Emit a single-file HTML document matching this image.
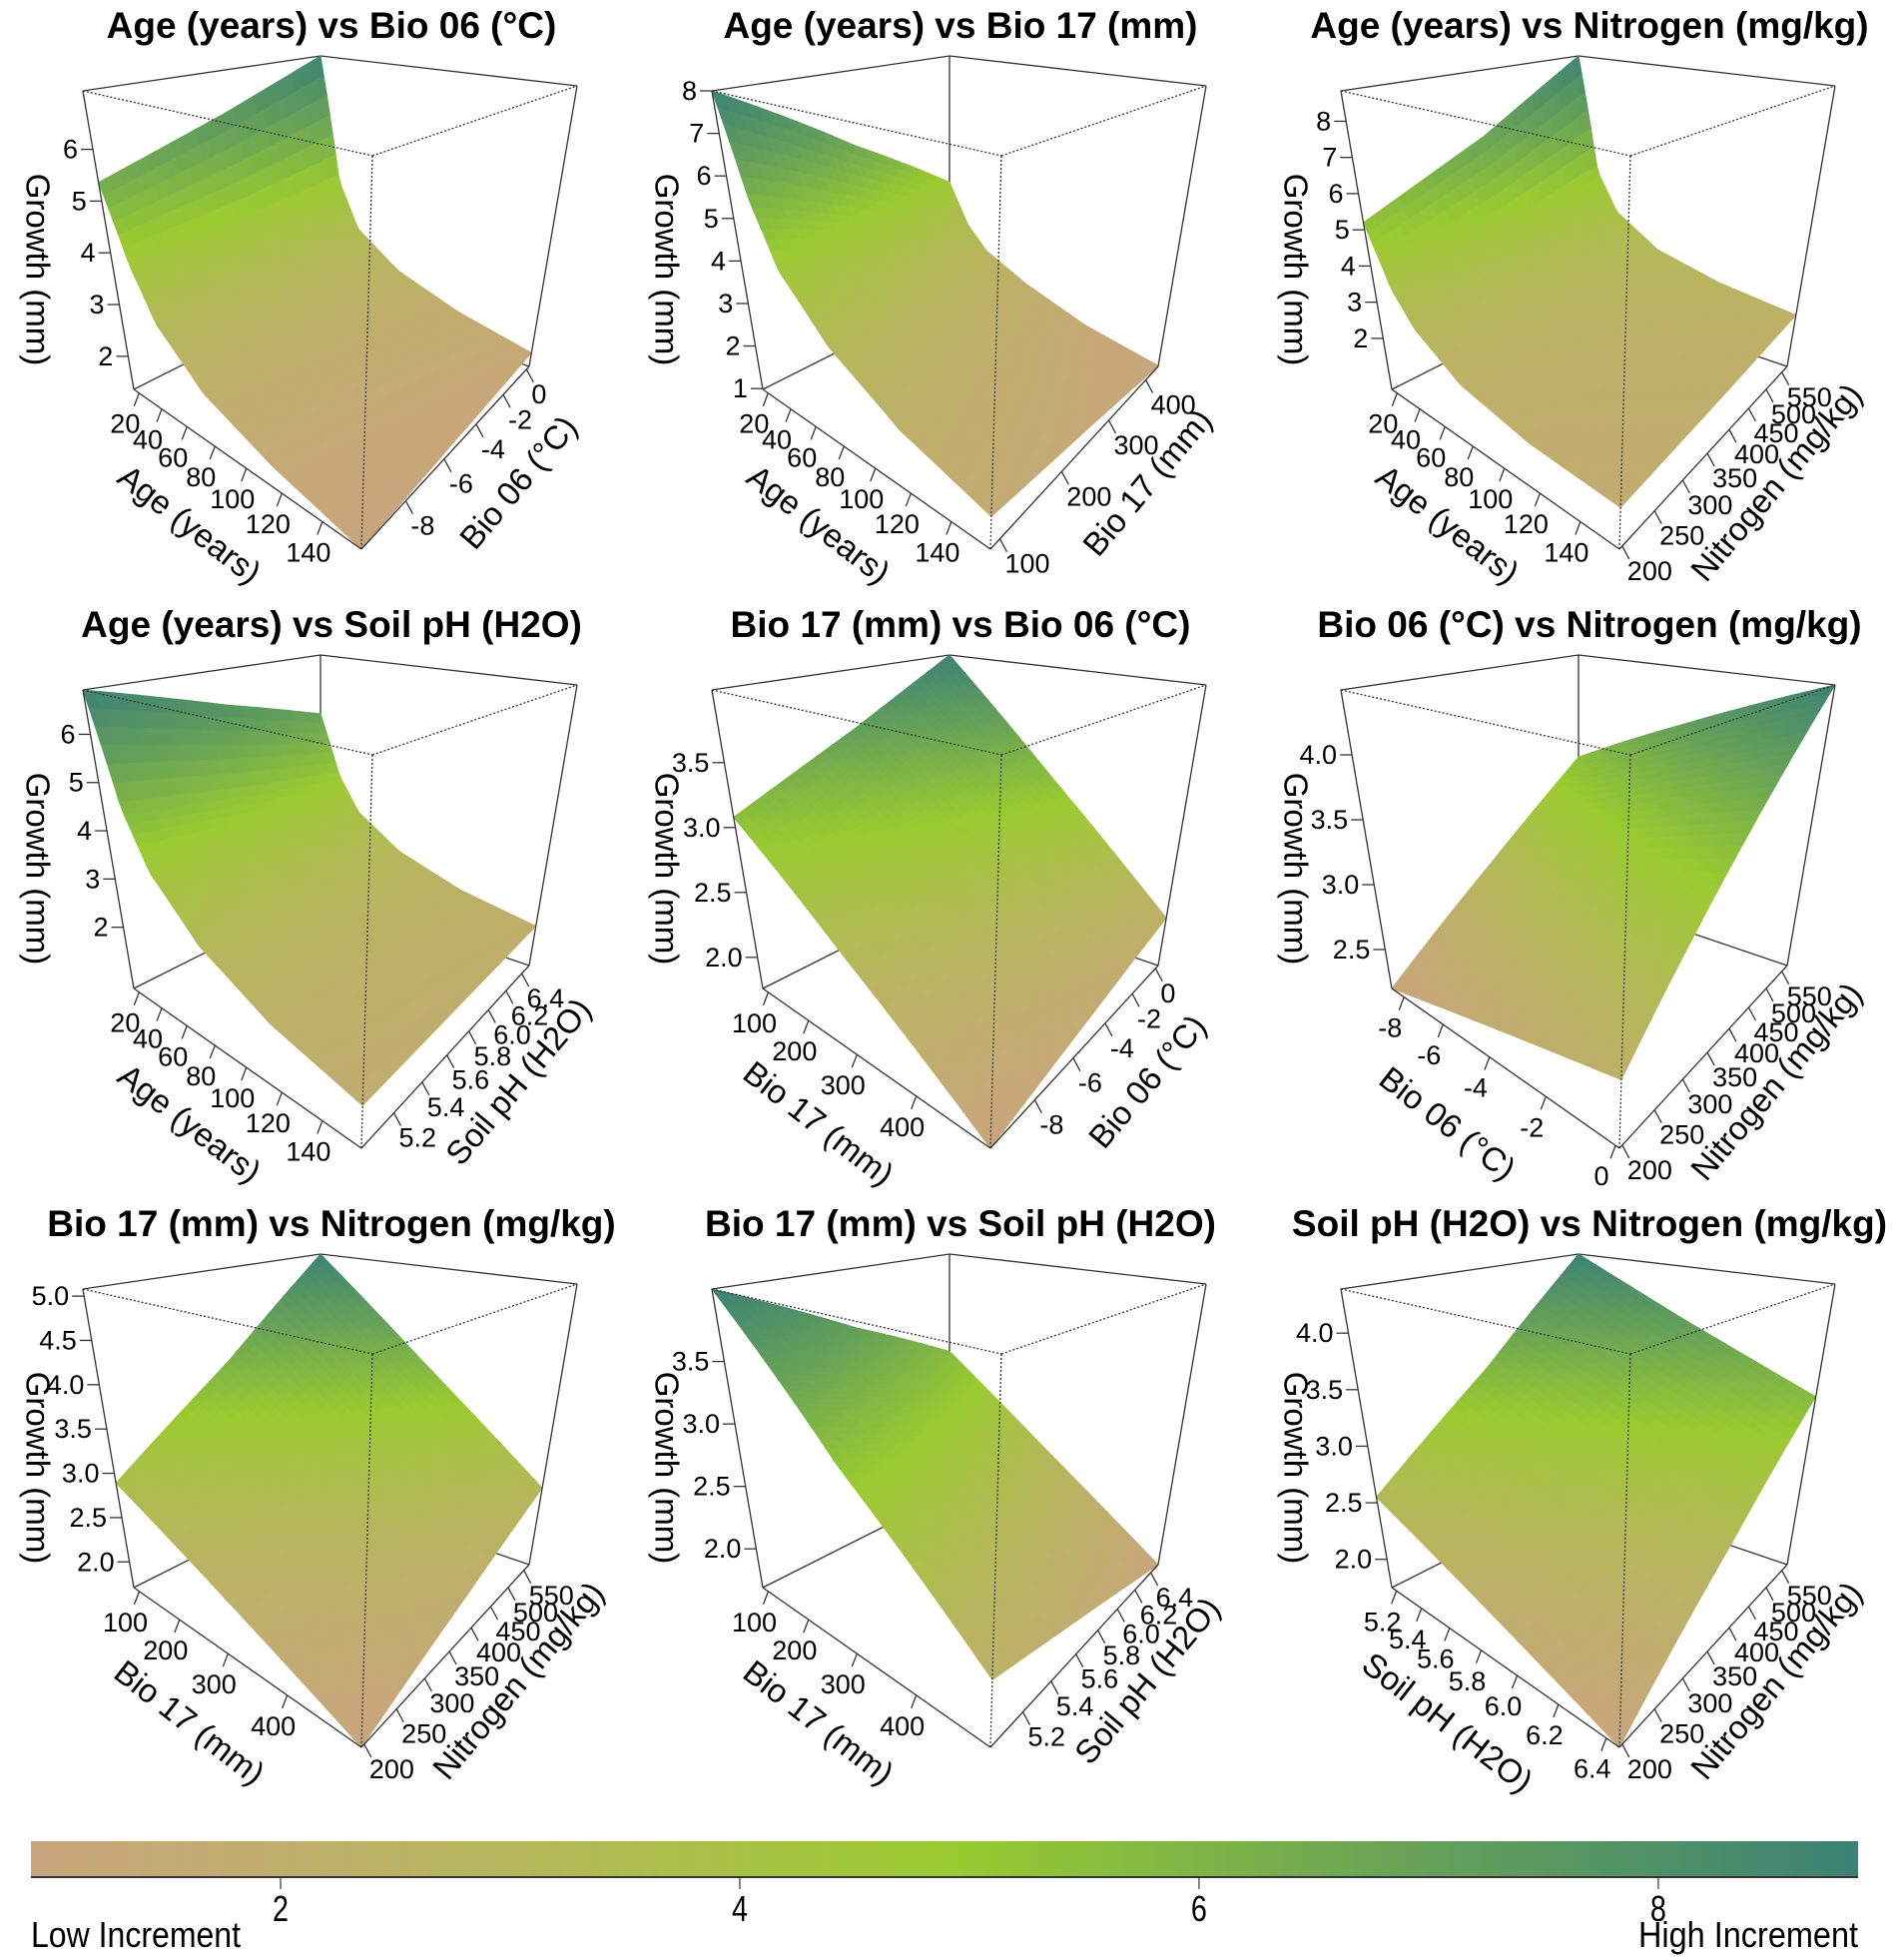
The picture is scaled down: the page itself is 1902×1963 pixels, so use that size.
<!DOCTYPE html>
<html><head><meta charset="utf-8"><title>Growth response surfaces</title>
<style>
html,body{margin:0;padding:0;background:#fff;}
svg{display:block;font-family:"Liberation Sans",sans-serif;}
</style></head>
<body>
<svg id="chart" xmlns="http://www.w3.org/2000/svg" width="1902" height="1963" viewBox="0 0 1902 1963">
<rect x="0" y="0" width="1902" height="1963" fill="#fff"/>
</svg>
<script>
// ---- data: category positions along axes ----
const ageCats = [15, 30, 45, 75, 115, 157];
const bio06Cats = [-9.9, -4.8, 0.25];
const bio06CatsA = [-8.7, -4.3, 0.1];
const bio17Cats = [87, 263, 439];
const bio17CatsA = [85, 290, 500];
const nitroCats = [196, 382, 568];
const phCats = [5.0, 5.75, 6.5];
const phCatsA = [5.16, 5.8, 6.45];
// growth values: rows = low / mid / high level of the second variable
const p1Low = [5.36, 3.9, 3.0, 2.2, 1.7, 1.36];
const p1Mid = [6.2, 4.0, 3.1, 2.35, 1.85, 1.5];
const p1High = [7.13, 4.2, 3.2, 2.5, 2.0, 1.64];
const p2Low = [8.0, 5.6, 4.2, 3.0, 2.1, 1.56];
const p2Mid = [6.0, 4.3, 3.4, 2.5, 1.75, 1.3];
const p2High = [4.3, 3.2, 2.6, 2.0, 1.4, 1.0];
const p3Low = [5.2, 3.6, 2.8, 2.0, 1.6, 1.46];
const p3Mid = [6.8, 4.2, 3.2, 2.4, 1.95, 1.75];
const p3High = [8.84, 5.0, 3.8, 2.9, 2.4, 2.1];
const p4Low = [6.92, 4.6, 3.5, 2.5, 1.8, 1.4];
const p4Mid = [6.1, 4.2, 3.3, 2.45, 1.85, 1.5];
const p4High = [5.4, 3.9, 3.1, 2.4, 1.9, 1.6];
const p5Low = [3.08, 2.4, 1.76];
const p5Mid = [3.55, 2.75, 1.95];
const p5High = [4.06, 3.1, 2.15];
const p6Low = [2.2, 2.4, 2.6];
const p6Mid = [2.85, 3.2, 3.55];
const p6High = [3.52, 4.0, 4.5];
const p7Low = [2.89, 2.3, 1.71];
const p7Mid = [3.9, 3.0, 2.15];
const p7High = [5.08, 3.85, 2.63];
const p8Low = [4.08, 3.0, 2.1];
const p8Mid = [3.55, 2.7, 1.9];
const p8High = [3.11, 2.4, 1.69];
const p9Low = [2.55, 2.15, 1.75];
const p9Mid = [3.4, 2.95, 2.5];
const p9High = [4.39, 3.85, 3.33];
// tick labels
const ageTicks = [20, 40, 60, 80, 100, 120, 140];
const bio06Ticks = [-8, -6, -4, -2, 0];
const bio17Ticks = [100, 200, 300, 400];
const nitroTicks = [200, 250, 300, 350, 400, 450, 500, 550];
const phTicks = [5.2, 5.4, 5.6, 5.8, 6.0, 6.2, 6.4];
const zTicks1 = [2, 3, 4, 5, 6];
const zTicks2 = [1, 2, 3, 4, 5, 6, 7, 8];
const zTicks3 = [2, 3, 4, 5, 6, 7, 8];
const zTicksA = [2.0, 2.5, 3.0, 3.5];
const zTicksB = [2.5, 3.0, 3.5, 4.0];
const zTicksC = [2.0, 2.5, 3.0, 3.5, 4.0, 4.5, 5.0];
const zTicksD = [2.0, 2.5, 3.0, 3.5, 4.0];
// colour scale (fractions of the range)
const scaleFrac = [0, 0.26, 0.5, 0.75, 1];
const scaleCols = ["#c9a57d", "#b6b65c", "#9acb30", "#68a357", "#3c8274"];
const cbTicks = [2, 4, 6, 8];

const panels = [
 {title:"Age (years) vs Bio 06 (°C)", aName:"Age (years)", bName:"Bio 06 (°C)", aCats:ageCats, bCats:bio06Cats, aTicks:ageTicks, bTicks:bio06Ticks, z:[1.36,7.13], zTicks:zTicks1, rows:[p1Low,p1Mid,p1High], dec:false},
 {title:"Age (years) vs Bio 17 (mm)", aName:"Age (years)", bName:"Bio 17 (mm)", aCats:ageCats, bCats:bio17Cats, aTicks:ageTicks, bTicks:bio17Ticks, z:[0.98,8.0], zTicks:zTicks2, rows:[p2Low,p2Mid,p2High], dec:false},
 {title:"Age (years) vs Nitrogen (mg/kg)", aName:"Age (years)", bName:"Nitrogen (mg/kg)", aCats:ageCats, bCats:nitroCats, aTicks:ageTicks, bTicks:nitroTicks, z:[0.59,8.84], zTicks:zTicks3, rows:[p3Low,p3Mid,p3High], dec:false},
 {title:"Age (years) vs Soil pH (H2O)", aName:"Age (years)", bName:"Soil pH (H2O)", aCats:ageCats, bCats:phCats, aTicks:ageTicks, bTicks:phTicks, z:[0.73,6.92], zTicks:zTicks1, rows:[p4Low,p4Mid,p4High], dec:false, bDec:true},
 {title:"Bio 17 (mm) vs Bio 06 (°C)", aName:"Bio 17 (mm)", bName:"Bio 06 (°C)", aCats:bio17CatsA, bCats:bio06Cats, aTicks:bio17Ticks, bTicks:bio06Ticks, z:[1.76,4.06], zTicks:zTicksA, rows:[p5Low,p5Mid,p5High], dec:true},
 {title:"Bio 06 (°C) vs Nitrogen (mg/kg)", aName:"Bio 06 (°C)", bName:"Nitrogen (mg/kg)", aCats:bio06CatsA, bCats:nitroCats, aTicks:bio06Ticks, bTicks:nitroTicks, z:[2.2,4.5], zTicks:zTicksB, rows:[p6Low,p6Mid,p6High], dec:true},
 {title:"Bio 17 (mm) vs Nitrogen (mg/kg)", aName:"Bio 17 (mm)", bName:"Nitrogen (mg/kg)", aCats:bio17CatsA, bCats:nitroCats, aTicks:bio17Ticks, bTicks:nitroTicks, z:[1.71,5.08], zTicks:zTicksC, rows:[p7Low,p7Mid,p7High], dec:true},
 {title:"Bio 17 (mm) vs Soil pH (H2O)", aName:"Bio 17 (mm)", bName:"Soil pH (H2O)", aCats:bio17CatsA, bCats:phCats, aTicks:bio17Ticks, bTicks:phTicks, z:[1.69,4.08], zTicks:zTicksA, rows:[p8Low,p8Mid,p8High], dec:true, bDec:true},
 {title:"Soil pH (H2O) vs Nitrogen (mg/kg)", aName:"Soil pH (H2O)", bName:"Nitrogen (mg/kg)", aCats:phCatsA, bCats:nitroCats, aTicks:phTicks, bTicks:nitroTicks, z:[1.75,4.39], zTicks:zTicksD, rows:[p9Low,p9Mid,p9High], dec:true, aDec:true}
];

const NS = "http://www.w3.org/2000/svg";
const svg = document.getElementById("chart");
function mk(tag, attrs, parent){const e=document.createElementNS(NS,tag);for(const k in attrs)e.setAttribute(k,attrs[k]);parent.appendChild(e);return e;}
function hex(c){return [parseInt(c.substr(1,2),16),parseInt(c.substr(3,2),16),parseInt(c.substr(5,2),16)];}
function colorFrac(f){
  if(f<=0)return scaleCols[0];
  for(let i=1;i<scaleFrac.length;i++){
    if(f<=scaleFrac[i]){const t=(f-scaleFrac[i-1])/(scaleFrac[i]-scaleFrac[i-1]);const a=hex(scaleCols[i-1]),b=hex(scaleCols[i]);
      return "rgb("+a.map((x,j)=>Math.round(x+(b[j]-x)*t)).join(",")+")";}
  }
  return scaleCols[scaleCols.length-1];
}
function quad(p0,p1,p2,p3){
  const [x0,y0]=p0,[x1,y1]=p1,[x2,y2]=p2,[x3,y3]=p3;
  const sx=x0-x1+x2-x3, sy=y0-y1+y2-y3;
  const dx1=x1-x2,dx2=x3-x2,dy1=y1-y2,dy2=y3-y2;
  const den=dx1*dy2-dx2*dy1;
  const g=(sx*dy2-dx2*sy)/den, h=(dx1*sy-sx*dy1)/den;
  const a=x1-x0+g*x1,b=x3-x0+h*x3,c=x0,d=y1-y0+g*y1,e=y3-y0+h*y3,f=y0;
  return (u,v)=>{const w=g*u+h*v+1;return [(a*u+b*v+c)/w,(d*u+e*v+f)/w];};
}
const G = {TL:[83,91],TB:[321,56],TR:[578,86],TF:[373,156],L:[134,390],F:[362,550],R:[530,367],BK:[321,296]};
const origins = [[0,0],[630,0],[1260,0],[0,600],[630,600],[1260,600],[0,1200],[630,1200],[1260,1200]];

function interp1(cats,vals,x){
  if(x<=cats[0])return vals[0];
  for(let i=1;i<cats.length;i++){if(x<=cats[i]){const t=(x-cats[i-1])/(cats[i]-cats[i-1]);return vals[i-1]+(vals[i]-vals[i-1])*t;}}
  return vals[vals.length-1];
}
function fmt(v,dec){return dec?v.toFixed(1):String(v);}

panels.forEach((p,pi)=>{
  const [ox,oy]=origins[pi];
  const P=k=>[G[k][0]+ox,G[k][1]+oy];
  const base=quad(P("L"),P("F"),P("R"),P("BK"));
  const top=quad(P("TL"),P("TF"),P("TR"),P("TB"));
  const aLo=p.aCats[0],aHi=p.aCats[p.aCats.length-1],bLo=p.bCats[0],bHi=p.bCats[p.bCats.length-1];
  const [zLo,zHi]=p.z;
  const val=(u,v)=>{const av=aLo+u*(aHi-aLo),bv=bLo+v*(bHi-bLo);
    const r=p.rows.map(row=>interp1(p.aCats,row,av));return interp1(p.bCats,r,bv);};
  const proj=(u,v,z)=>{const b=base(u,v),t=top(u,v),f=(z-zLo)/(zHi-zLo);return [b[0]+(t[0]-b[0])*f,b[1]+(t[1]-b[1])*f];};
  const g=mk("g",{},svg);
  
  
  const ttl=mk("text",{x:ox+332,y:oy+38,"text-anchor":"middle","font-size":37,"font-weight":"bold",fill:"#000"},g);
  ttl.textContent=p.title;
  
  
  const line=(a,b,dash,name)=>{const l=mk("line",{x1:a[0],y1:a[1],x2:b[0],y2:b[1],stroke:"#333","stroke-width":1.3},g);
    if(dash)l.setAttribute("stroke-dasharray","2,2");
    
    };
  line(P("TL"),P("TB"),false,'box-edge');
  line(P("TB"),P("TR"),false,'box-edge');
  line(P("TB"),P("BK"),false,'box-edge');
  line(P("L"),P("BK"),false,'box-edge');
  line(P("BK"),P("R"),false,'box-edge');
  const sg=mk("g",{},g);
  
  
  const NU=60,NV=30,cells=[];
  for(let i=0;i<NU;i++)for(let j=0;j<NV;j++)cells.push([i,j]);
  cells.sort((c1,c2)=>((c1[0]/NU-c1[1]/NV)-(c2[0]/NU-c2[1]/NV)));
  cells.forEach(([i,j])=>{
    const u0=i/NU,u1=(i+1)/NU,v0=j/NV,v1=(j+1)/NV;
    const pts=[[u0,v0],[u1,v0],[u1,v1],[u0,v1]].map(([u,v])=>proj(u,v,val(u,v)));
    const c=colorFrac((val((u0+u1)/2,(v0+v1)/2)-zLo)/(zHi-zLo));
    const poly=mk("polygon",{points:pts.map(q=>q[0].toFixed(1)+","+q[1].toFixed(1)).join(" "),fill:c,stroke:c,"stroke-width":0.9},sg);
    
    
  });
  line(P("L"),P("TL"),false,'box-edge');
  line(P("R"),P("TR"),false,'box-edge');
  line(P("L"),P("F"),false,'a-axis-line');
  line(P("F"),P("R"),false,'b-axis-line');
  line(P("TL"),P("TF"),true,'box-edge-dotted');
  line(P("TF"),P("TR"),true,'box-edge-dotted');
  line(P("TF"),P("F"),true,'box-edge-dotted');
  p.aTicks.forEach(tv=>{
    const u=(tv-aLo)/(aHi-aLo);const q=base(u,0);
    line(q,[q[0]-5,q[1]+13],false,'a-axis-tick');
    const t=mk("text",{x:q[0]-14,y:q[1]+31,"text-anchor":"middle","dominant-baseline":"central","font-size":27,fill:"#000"},g);
    t.textContent=fmt(tv,p.aDec);
    
    
  });
  p.bTicks.forEach(tv=>{
    const v=(tv-bLo)/(bHi-bLo);const q=base(1,v);
    line(q,[q[0]+7,q[1]+13],false,'b-axis-tick');
    const t=mk("text",{x:q[0]+5,y:q[1]+25,"text-anchor":"start","dominant-baseline":"central","font-size":27,fill:"#000"},g);
    t.textContent=fmt(tv,p.bDec);
    
    
  });
  p.zTicks.forEach(tv=>{
    const f=(tv-zLo)/(zHi-zLo);const L=P("L"),T=P("TL");
    const q=[L[0]+(T[0]-L[0])*f,L[1]+(T[1]-L[1])*f];
    line(q,[q[0]-12,q[1]],false,'z-axis-tick');
    const t=mk("text",{x:q[0]-15,y:q[1],"text-anchor":"end","dominant-baseline":"central","font-size":27,fill:"#000"},g);
    t.textContent=fmt(tv,p.dec);
    
    
  });
  const ax=ox+190,ay=oy+525;
  const at=mk("text",{x:ax,y:ay,"text-anchor":"middle","dominant-baseline":"central","font-size":33,fill:"#000",transform:"rotate(37.8 "+ax+" "+ay+")"},g);
  at.textContent=p.aName;
  
  
  const bx=ox+519,by=oy+483;
  const bt=mk("text",{x:bx,y:by,"text-anchor":"middle","dominant-baseline":"central","font-size":33,fill:"#000",transform:"rotate(-50 "+bx+" "+by+")"},g);
  bt.textContent=p.bName;
  
  
  const zx=ox+38,zy=oy+270;
  const zt=mk("text",{x:zx,y:zy,"text-anchor":"middle","dominant-baseline":"central","font-size":33,fill:"#000",transform:"rotate(90 "+zx+" "+zy+")"},g);
  zt.textContent="Growth (mm)";
  
  
});

// colour bar
const cbX0=31,cbX1=1861,cbY=1844,cbH=36,cbVLo=0.913,cbVHi=8.87;
const cbx=v=>cbX0+(v-cbVLo)/(cbVHi-cbVLo)*(cbX1-cbX0);
const defs=mk("defs",{},svg);
const lg=mk("linearGradient",{id:"cbgrad",x1:"0",x2:"1",y1:"0",y2:"0"},defs);
scaleFrac.forEach((f,i)=>{mk("stop",{offset:f,"stop-color":scaleCols[i]},lg);});
const cg=mk("g",{},svg);


const cr=mk("rect",{x:cbX0,y:cbY,width:cbX1-cbX0,height:cbH,fill:"url(#cbgrad)"},cg);


const cl=mk("line",{x1:cbX0,y1:cbY+cbH,x2:cbX1,y2:cbY+cbH,stroke:"#333","stroke-width":2},cg);


cbTicks.forEach(v=>{
  const x=cbx(v);
  const tl=mk("line",{x1:x,y1:cbY+cbH,x2:x,y2:cbY+cbH+12,stroke:"#333","stroke-width":1.2},cg);
  
  
  const t=mk("text",{x:x,y:1924,"text-anchor":"middle","font-size":36,fill:"#000",transform:"translate("+x+" 0) scale(0.8 1) translate("+(-x)+" 0)"},cg);
  t.textContent=String(v);
  
  
});
const lo=mk("text",{x:cbX0,y:1950,"font-size":36,fill:"#000",textLength:210,lengthAdjust:"spacingAndGlyphs"},cg);
lo.textContent="Low Increment";


const hi=mk("text",{x:cbX1-220,y:1950,"font-size":36,fill:"#000",textLength:220,lengthAdjust:"spacingAndGlyphs"},cg);
hi.textContent="High Increment";


</script>
</body></html>
